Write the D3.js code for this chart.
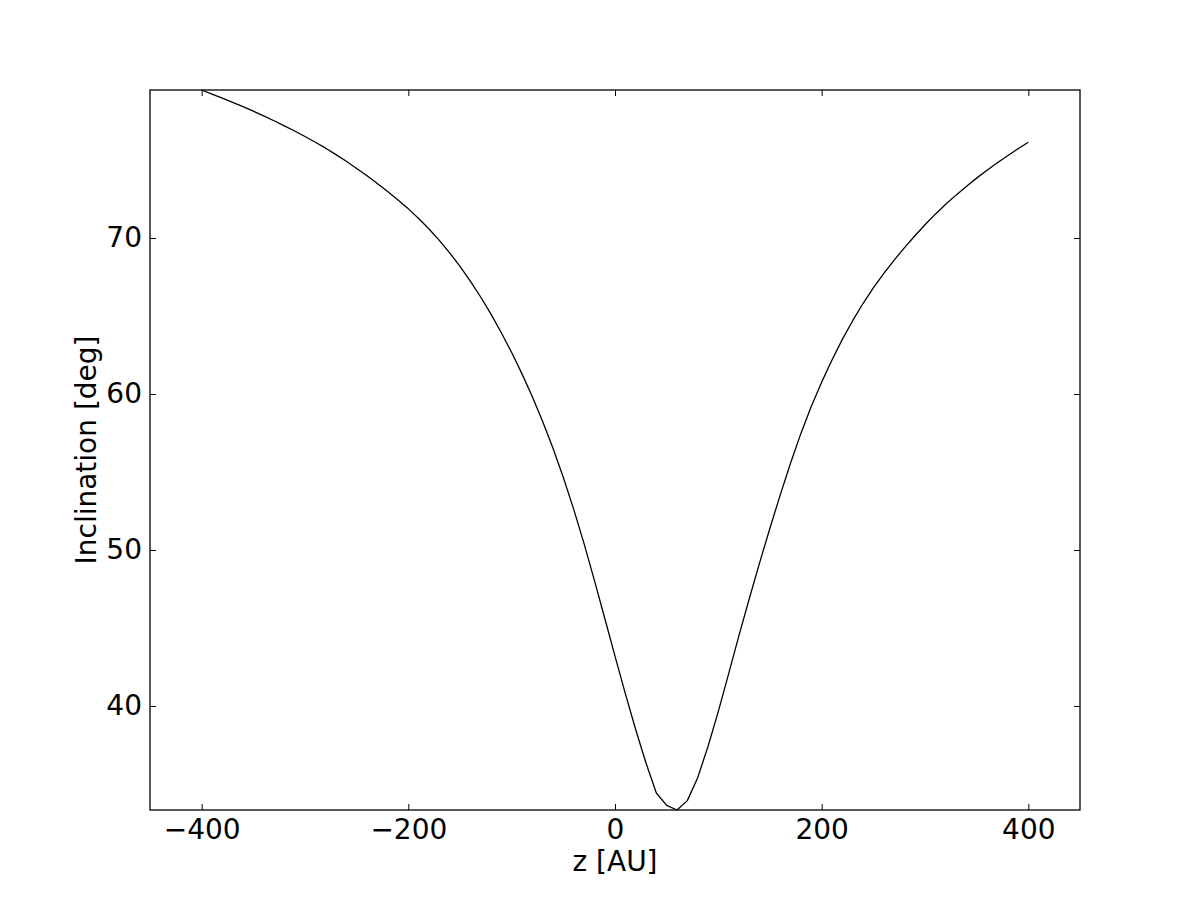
<!DOCTYPE html>
<html>
<head>
<meta charset="utf-8">
<script src="https://cdn.jsdelivr.net/npm/d3@7"></script>
<style>
  body { margin: 0; background: #fff; }
  text { font-family: "DejaVu Sans", sans-serif; fill: #000; }
</style>
</head>
<body>
<div id="chart"></div>
<script>
// z positions [AU]
const zValues = [
  -400, -390, -380, -370, -360, -350, -340, -330, -320, -310,
  -300, -290, -280, -270, -260, -250, -240, -230, -220, -210,
  -200, -190, -180, -170, -160, -150, -140, -130, -120, -110,
  -100, -90, -80, -70, -60, -50, -40, -30, -20, -10,
  0, 10, 20, 30, 40, 50, 60, 70, 80, 90,
  100, 110, 120, 130, 140, 150, 160, 170, 180, 190,
  200, 210, 220, 230, 240, 250, 260, 270, 280, 290,
  300, 310, 320, 330, 340, 350, 360, 370, 380, 390, 400
];

// inclination [deg]
const inclination = [
  79.49, 79.23, 78.97, 78.70, 78.42, 78.13, 77.83, 77.52, 77.19, 76.86,
  76.51, 76.14, 75.76, 75.35, 74.92, 74.46, 73.99, 73.49, 72.98, 72.44,
  71.87, 71.25, 70.58, 69.85, 69.05, 68.18, 67.24, 66.22, 65.12, 63.93,
  62.66, 61.29, 59.82, 58.24, 56.52, 54.65, 52.62, 50.42, 48.07, 45.64,
  43.19, 40.79, 38.49, 36.34, 34.42, 33.63, 33.33, 33.93, 35.40, 37.40,
  39.65, 42.07, 44.53, 46.89, 49.19, 51.41, 53.55, 55.59, 57.49, 59.21,
  60.76, 62.18, 63.50, 64.70, 65.80, 66.80, 67.72, 68.57, 69.37, 70.13,
  70.85, 71.53, 72.16, 72.75, 73.31, 73.84, 74.34, 74.82, 75.28, 75.72, 76.14
];

const xTicks = [-400, -200, 0, 200, 400];
const yTicks = [40, 50, 60, 70];
const xLimits = [-450, 450];

const data = zValues.map((z, i) => ({ z, inc: inclination[i] }));

const width = 1200;
const height = 900;
const margin = { top: 90, right: 120, bottom: 90, left: 150 };
const tickLen = 6;
const fontSize = 28;

const xScale = d3.scaleLinear().domain(xLimits).range([margin.left, width - margin.right]);
const yScale = d3.scaleLinear().domain(d3.extent(inclination)).range([height - margin.bottom, margin.top]);

const svg = d3.select("#chart")
  .append("svg")
  .attr("width", width)
  .attr("height", height);

svg.append("rect")
  .attr("width", width)
  .attr("height", height)
  .attr("fill", "#fff");

const fmt = d3.format("d");

// bottom axis with labels, ticks pointing inward
const xAxis = svg.append("g")
  .attr("transform", `translate(0,${height - margin.bottom})`)
  .call(d3.axisBottom(xScale).tickValues(xTicks).tickFormat(fmt)
    .tickSizeInner(-tickLen).tickSizeOuter(0).tickPadding(9));

// left axis with labels
const yAxis = svg.append("g")
  .attr("transform", `translate(${margin.left},0)`)
  .call(d3.axisLeft(yScale).tickValues(yTicks).tickFormat(fmt)
    .tickSizeInner(-tickLen).tickSizeOuter(0).tickPadding(8));

// mirrored ticks on top and right
const xTop = svg.append("g")
  .attr("transform", `translate(0,${margin.top})`)
  .call(d3.axisTop(xScale).tickValues(xTicks).tickFormat("")
    .tickSizeInner(-tickLen).tickSizeOuter(0));

const yRight = svg.append("g")
  .attr("transform", `translate(${width - margin.right},0)`)
  .call(d3.axisRight(yScale).tickValues(yTicks).tickFormat("")
    .tickSizeInner(-tickLen).tickSizeOuter(0));

[xAxis, yAxis, xTop, yRight].forEach((g) => {
  g.select(".domain").remove();
  g.selectAll(".tick line").attr("stroke", "#000").attr("stroke-width", 1);
  g.selectAll(".tick text")
    .attr("fill", "#000")
    .attr("font-family", "DejaVu Sans")
    .attr("font-size", fontSize);
});

// curve
svg.append("path")
  .datum(data)
  .attr("fill", "none")
  .attr("stroke", "#000")
  .attr("stroke-width", 1.3)
  .attr("stroke-linejoin", "round")
  .attr("d", d3.line().x((d) => xScale(d.z)).y((d) => yScale(d.inc)));

// frame
svg.append("rect")
  .attr("x", margin.left)
  .attr("y", margin.top)
  .attr("width", width - margin.left - margin.right)
  .attr("height", height - margin.top - margin.bottom)
  .attr("fill", "none")
  .attr("stroke", "#000")
  .attr("stroke-width", 1.3);

svg.append("text")
  .attr("x", xScale(0))
  .attr("y", 871)
  .attr("text-anchor", "middle")
  .attr("font-size", fontSize)
  .text("z [AU]");

svg.append("text")
  .attr("transform", `translate(96,${(margin.top + height - margin.bottom) / 2}) rotate(-90)`)
  .attr("text-anchor", "middle")
  .attr("font-size", fontSize)
  .text("Inclination [deg]");
</script>
</body>
</html>
